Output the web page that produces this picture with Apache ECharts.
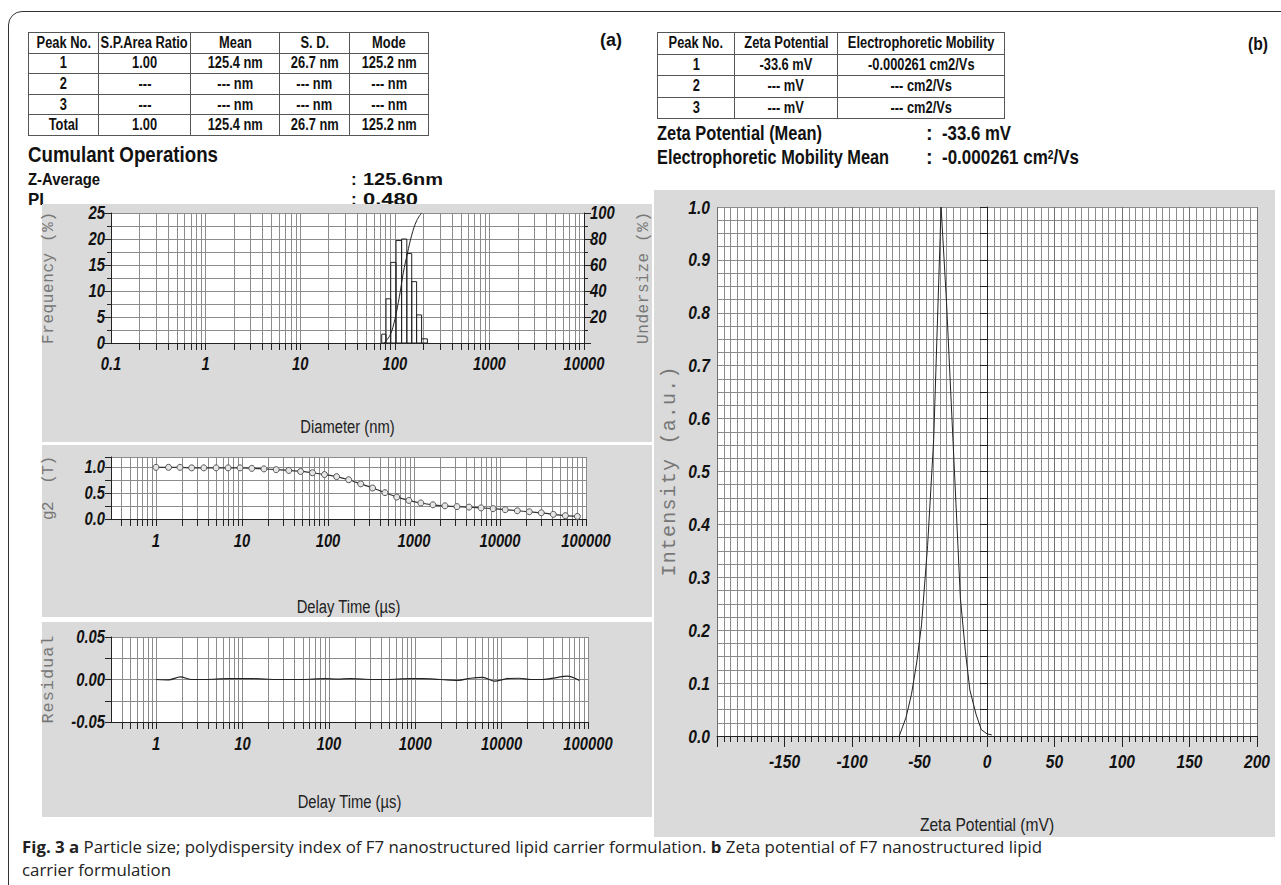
<!DOCTYPE html>
<html>
<head>
<meta charset="utf-8">
<script src="https://cdn.jsdelivr.net/npm/echarts@6/dist/echarts.min.js"></script>
<style>
html,body{margin:0;padding:0;background:#fff;}
body{width:1281px;height:885px;overflow:hidden;position:relative;font-family:"Liberation Sans Narrow","Arial Narrow","Liberation Sans",Arial,sans-serif;color:#111;}
#frame{position:absolute;left:8px;top:11px;width:1320px;height:920px;border:1.5px solid #333;border-top-left-radius:14px;box-sizing:border-box;z-index:0;}
.t{position:absolute;white-space:nowrap;font-weight:bold;line-height:1;transform-origin:0 50%;z-index:0;}
.panel{position:absolute;background:#dadada;z-index:1;}
#chart{position:absolute;left:0;top:0;width:1281px;height:885px;z-index:2;}
table{position:absolute;border-collapse:collapse;table-layout:fixed;font-weight:bold;font-size:16px;z-index:3;}
td{border:1px solid #555;text-align:center;padding:0;white-space:nowrap;overflow:visible;line-height:1;}
td span{display:inline-block;transform-origin:50% 50%;margin:0 -40px;}
#tabA td{height:19.6px;}
#tabB td{height:20.5px;}
.cap{position:absolute;left:22px;white-space:nowrap;font-family:"Open Sans","Noto Sans",sans-serif;font-size:16px;line-height:1;color:#222;transform-origin:0 50%;z-index:3;}
.cap b{font-weight:bold;}
sup{font-size:0.6em;vertical-align:0.45em;}
</style>
</head>
<body>
<div id="frame"></div>

<!-- header texts (a) -->
<span class="t" data-w="22" style="left:600px;top:31px;font-size:18px">(a)</span>
<span class="t" data-w="190" style="left:28px;top:144px;font-size:22px">Cumulant Operations</span>
<span class="t" data-w="72" style="left:28px;top:171px;font-size:17px">Z-Average</span>
<span class="t" style="left:351px;top:171px;font-size:17px">:</span>
<span class="t" data-w="80" style="left:363px;top:171px;font-size:17px">125.6nm</span>
<span class="t" data-w="16" style="left:28px;top:191px;font-size:17px">PI</span>
<span class="t" style="left:351px;top:191px;font-size:17px">:</span>
<span class="t" data-w="55" style="left:363px;top:191px;font-size:17px">0.480</span>

<!-- header texts (b) -->
<span class="t" data-w="20" style="left:1248px;top:35px;font-size:18px">(b)</span>
<span class="t" data-w="165" style="left:657px;top:123px;font-size:20px">Zeta Potential (Mean)</span>
<span class="t" style="left:926px;top:123px;font-size:20px">:</span>
<span class="t" data-w="69" style="left:942px;top:123px;font-size:20px">-33.6 mV</span>
<span class="t" data-w="232" style="left:657px;top:147px;font-size:20px">Electrophoretic Mobility Mean</span>
<span class="t" style="left:926px;top:147px;font-size:20px">:</span>
<span class="t" data-w="137" style="left:942px;top:147px;font-size:20px">-0.000261 cm<sup>2</sup>/Vs</span>

<div class="panel" style="left:42px;top:204px;width:610px;height:238px"></div>
<div class="panel" style="left:42px;top:445px;width:610px;height:172px"></div>
<div class="panel" style="left:42px;top:622px;width:610px;height:195px"></div>
<div class="panel" style="left:654px;top:190px;width:621px;height:647px"></div>

<div id="chart"></div>

<table id="tabA" style="left:28px;top:32px;width:400px">
<colgroup><col style="width:70px"><col style="width:92px"><col style="width:89px"><col style="width:70px"><col style="width:79px"></colgroup>
<tbody id="tabAbody"></tbody>
</table>
<table id="tabB" style="left:657px;top:32px;width:347px">
<colgroup><col style="width:77px"><col style="width:103px"><col style="width:167px"></colgroup>
<tbody id="tabBbody"></tbody>
</table>

<div class="cap" id="cap1" style="top:839px"><b>Fig. 3 a</b> Particle size; polydispersity index of F7 nanostructured lipid carrier formulation. <b>b</b> Zeta potential of F7 nanostructured lipid</div>
<div class="cap" id="cap2" style="top:862px">carrier formulation</div>

<script>
// ---------------- data ----------------
// (a) particle size distribution
const binEdgesNm = [72.7, 80.7, 90.5, 103, 118, 134, 151, 170, 192, 221];
const frequencyPct = [1.7, 8.5, 15.5, 19.7, 20.0, 17.2, 11.8, 5.4, 0.8];
const undersizeNm = [77, 89, 100, 112, 123, 136, 151, 170, 192];
const undersizePct = [0, 6, 18, 36, 54, 69, 83, 94, 100];
const diameterLabels = [0.1, 1, 10, 100, 1000, 10000];

// correlation function g2 and residual
const delayUs = [1, 1.4, 1.9, 2.6, 3.6, 5, 6.9, 9.5, 13, 18, 25, 35, 48, 66, 91, 126, 174, 240, 330, 460,
  630, 870, 1200, 1660, 2290, 3160, 4370, 6030, 8320, 11500, 15900, 21900, 30200, 41700, 57500, 79400];
const g2Values = [1.0, 1.0, 1.0, 0.99, 0.99, 0.99, 0.99, 0.99, 0.98, 0.97, 0.955, 0.94, 0.92, 0.895, 0.86, 0.82,
  0.76, 0.68, 0.60, 0.51, 0.425, 0.36, 0.31, 0.275, 0.255, 0.24, 0.23, 0.215, 0.20, 0.18, 0.16, 0.14, 0.12, 0.09, 0.065, 0.05];
const residualValues = [0, -0.0005, 0.003, 0, 0, 0.0005, 0.001, 0.001, 0.001, 0.0005, 0, 0, 0, 0.0005, 0.001, 0.0005,
  0.001, 0.0005, 0, 0, 0.0005, 0.001, 0.001, 0.0005, -0.0005, -0.001, 0.0015, 0.0025, -0.002, 0.001, 0.0015, 0, 0, 0.002, 0.004, -0.001];
const delayLabels = [1, 10, 100, 1000, 10000, 100000];

// (b) zeta potential distribution
const zetaMv = [-65, -60, -56, -52, -48.5, -44, -39.5, -34, -30, -26.5, -23, -19.7, -16, -12.7, -8, -4.2, 0, 3.6];
const zetaIntensity = [0, 0.035, 0.078, 0.14, 0.21, 0.36, 0.56, 1.0, 0.82, 0.63, 0.44, 0.26, 0.16, 0.087, 0.04, 0.012, 0.004, 0.002];

// tables
const tableAHeader = ['Peak No.', 'S.P.Area Ratio', 'Mean', 'S. D.', 'Mode'];
const tableARows = [
  ['1', '1.00', '125.4 nm', '26.7 nm', '125.2 nm'],
  ['2', '---', '--- nm', '--- nm', '--- nm'],
  ['3', '---', '--- nm', '--- nm', '--- nm'],
  ['Total', '1.00', '125.4 nm', '26.7 nm', '125.2 nm']
];
const tableBHeader = ['Peak No.', 'Zeta Potential', 'Electrophoretic Mobility'];
const tableBRows = [
  ['1', '-33.6 mV', '-0.000261 cm2/Vs'],
  ['2', '--- mV', '--- cm2/Vs'],
  ['3', '--- mV', '--- cm2/Vs']
];

// ---------------- tables ----------------
function fillTable(id, header, rows) {
  const tb = document.getElementById(id);
  [header].concat(rows).forEach(r => {
    const tr = document.createElement('tr');
    r.forEach(c => { const td = document.createElement('td'); const s = document.createElement('span'); s.textContent = c; td.appendChild(s); tr.appendChild(td); });
    tb.appendChild(tr);
  });
}
fillTable('tabAbody', tableAHeader, tableARows);
fillTable('tabBbody', tableBHeader, tableBRows);

// narrow-font compensation
(function () {
  const probe = document.createElement('span');
  probe.style.cssText = 'position:absolute;visibility:hidden;font-weight:bold;font-size:16px;white-space:nowrap;';
  probe.textContent = 'S.P.Area Ratio';
  document.body.appendChild(probe);
  const f = Math.min(1.05, 87 / probe.getBoundingClientRect().width);
  probe.remove();
  document.querySelectorAll('td span').forEach(s => { s.style.transform = 'scaleX(' + f + ')'; });
})();
document.querySelectorAll('[data-w]').forEach(el => {
  const a = el.getBoundingClientRect().width;
  if (a > 0) el.style.transform = 'scaleX(' + (+el.dataset.w / a) + ')';
});
(function () {
  const c1 = document.getElementById('cap1'), c2 = document.getElementById('cap2');
  const f = 1020 / c1.getBoundingClientRect().width;
  c1.style.transform = c2.style.transform = 'scaleX(' + f + ')';
})();

// ---------------- chart ----------------
const NARROW = '"Liberation Sans Narrow","Arial Narrow","Liberation Sans",Arial,sans-serif';
const MONO = '"Liberation Mono","Courier New",monospace';
const GRIDC = '#8c8c8c';
const AXC = '#222';
const tickLab = { fontFamily: NARROW, fontWeight: 'bold', fontStyle: 'italic', fontSize: 18, color: '#111' };
const nameX = { fontFamily: NARROW, fontSize: 18, color: '#222' };
const nameY = (s) => ({ fontFamily: MONO, fontSize: s, color: '#777' });

function logGrid(lo, hi) {
  const out = [];
  for (let e = -2; e <= 6; e++) for (let m = 1; m <= 9; m++) {
    const v = Number((m * Math.pow(10, e)).toPrecision(6));
    if (v > lo * 1.0001 && v <= hi * 1.0001) out.push(v);
  }
  return out;
}
const numFmt = v => String(Number(Number(v).toPrecision(6)));

function logX(gi, min, max, labels, name, gap, margin) {
  return {
    type: 'log', logBase: 10, gridIndex: gi, min: min, max: max,
    axisLine: { show: true, onZero: false, lineStyle: { color: AXC, width: 1 } },
    axisTick: { show: true, customValues: logGrid(min, max), length: 7, lineStyle: { color: AXC } },
    axisLabel: Object.assign({ customValues: labels, formatter: numFmt, margin: margin }, tickLab),
    splitLine: { show: true, lineStyle: { color: GRIDC, width: 1 } },
    name: name, nameLocation: 'middle', nameGap: gap, nameTextStyle: nameX
  };
}

const chart = echarts.init(document.getElementById('chart'), null, { renderer: 'svg', width: 1281, height: 885 });
const gridBase = { show: true, backgroundColor: '#fff', borderWidth: 0, containLabel: false, outerBoundsMode: 'none' };

chart.setOption({
  animation: false,
  backgroundColor: 'transparent',
  grid: [
    Object.assign({ left: 111, top: 213, width: 473, height: 130 }, gridBase),
    Object.assign({ left: 111, top: 457, width: 475, height: 62 }, gridBase),
    Object.assign({ left: 111, top: 637, width: 477, height: 85 }, gridBase),
    Object.assign({ left: 717, top: 207, width: 540, height: 529 }, gridBase)
  ],
  xAxis: [
    logX(0, 0.1, 10000, diameterLabels, 'Diameter (nm)', 75, 12),
    logX(1, 0.3, 100000, delayLabels, 'Delay Time (\u00b5s)', 79, 13),
    logX(2, 0.3, 100000, delayLabels, 'Delay Time (\u00b5s)', 71, 13),
    {
      type: 'value', gridIndex: 3, min: -200, max: 200, interval: 50,
      axisLine: { show: true, onZero: false, lineStyle: { color: AXC } },
      axisTick: { show: true, length: 11, lineStyle: { color: AXC } },
      minorTick: { show: true, splitNumber: 10, length: 6, lineStyle: { color: AXC } },
      splitLine: { show: true, lineStyle: { color: '#707070' } },
      minorSplitLine: { show: true, lineStyle: { color: GRIDC } },
      axisLabel: Object.assign({ showMinLabel: false, margin: 16 }, tickLab, { fontSize: 19 }),
      name: 'Zeta Potential (mV)', nameLocation: 'middle', nameGap: 79,
      nameTextStyle: { fontFamily: NARROW, fontSize: 19, color: '#222' }
    }
  ],
  yAxis: [
    {
      type: 'value', gridIndex: 0, min: 0, max: 25, interval: 5, position: 'left',
      axisLine: { show: true, lineStyle: { color: AXC } },
      axisTick: { show: true, length: 7, lineStyle: { color: AXC } },
      minorTick: { show: true, splitNumber: 2, length: 4, lineStyle: { color: AXC } },
      splitLine: { show: true, lineStyle: { color: GRIDC } },
      minorSplitLine: { show: true, lineStyle: { color: GRIDC } },
      axisLabel: Object.assign({ margin: 6 }, tickLab),
      name: 'Frequency (%)', nameLocation: 'middle', nameGap: 54, nameRotate: 90, nameTextStyle: nameY(16)
    },
    {
      type: 'value', gridIndex: 0, min: 0, max: 100, interval: 20, position: 'right',
      axisLine: { show: true, lineStyle: { color: AXC } },
      axisTick: { show: true, length: 7, lineStyle: { color: AXC } },
      minorTick: { show: true, splitNumber: 2, length: 4, lineStyle: { color: AXC } },
      splitLine: { show: false },
      axisLabel: Object.assign({ margin: 6, formatter: v => (v === 0 ? '' : String(v)) }, tickLab),
      name: 'Undersize (%)', nameLocation: 'middle', nameGap: 52, nameRotate: 90, nameTextStyle: nameY(16)
    },
    {
      type: 'value', gridIndex: 1, min: 0, max: 1.2, interval: 0.25,
      axisLine: { show: true, lineStyle: { color: AXC } },
      axisTick: { show: true, length: 6, lineStyle: { color: AXC } },
      splitLine: { show: true, lineStyle: { color: GRIDC } },
      axisLabel: Object.assign({ margin: 6, formatter: v => (v <= 1.0001 && Math.abs(v * 2 - Math.round(v * 2)) < 1e-6 ? v.toFixed(1) : '') }, tickLab),
      name: 'g2  (T)', nameLocation: 'middle', nameGap: 54, nameRotate: 90, nameTextStyle: nameY(16)
    },
    {
      type: 'value', gridIndex: 2, min: -0.05, max: 0.05, interval: 0.025,
      axisLine: { show: true, onZero: false, lineStyle: { color: AXC } },
      axisTick: { show: true, length: 6, lineStyle: { color: AXC } },
      splitLine: { show: true, lineStyle: { color: GRIDC } },
      axisLabel: Object.assign({ margin: 6, formatter: v => (Math.abs(v * 20 - Math.round(v * 20)) < 1e-6 ? (Math.abs(v) < 1e-9 ? '0.00' : v.toFixed(2)) : '') }, tickLab),
      name: 'Residual', nameLocation: 'middle', nameGap: 54, nameRotate: 90, nameTextStyle: nameY(17)
    },
    {
      type: 'value', gridIndex: 3, min: 0, max: 1, interval: 0.05,
      axisLine: { show: true, lineStyle: { color: AXC } },
      axisTick: { show: true, length: 7, lineStyle: { color: AXC } },
      minorTick: { show: false, splitNumber: 2 },
      splitLine: { show: true, lineStyle: { color: GRIDC } },
      minorSplitLine: { show: true, lineStyle: { color: GRIDC } },
      axisLabel: Object.assign({ margin: 7, formatter: v => (Math.abs(v * 10 - Math.round(v * 10)) < 1e-6 ? v.toFixed(1) : '') }, tickLab, { fontSize: 19 }),
      name: 'Intensity (a.u.)', nameLocation: 'middle', nameGap: 38, nameRotate: 90, nameTextStyle: nameY(20)
    }
  ],
  series: [
    {
      type: 'custom', xAxisIndex: 0, yAxisIndex: 0, silent: true, z: 3,
      data: frequencyPct.map((v, i) => [binEdgesNm[i], binEdgesNm[i + 1], v]),
      encode: { x: [0, 1], y: 2 },
      renderItem: function (params, api) {
        const p0 = api.coord([api.value(0), api.value(2)]);
        const p1 = api.coord([api.value(1), 0]);
        return { type: 'rect', shape: { x: p0[0], y: p0[1], width: p1[0] - p0[0], height: p1[1] - p0[1] },
          style: { fill: 'none', stroke: '#222', lineWidth: 1 } };
      }
    },
    {
      type: 'line', xAxisIndex: 0, yAxisIndex: 1, smooth: 0.4, showSymbol: false, silent: true, z: 4,
      data: undersizeNm.map((d, i) => [d, undersizePct[i]]),
      lineStyle: { color: '#222', width: 1 }
    },
    {
      type: 'line', xAxisIndex: 1, yAxisIndex: 2, smooth: 0.3, symbol: 'circle', symbolSize: 6, silent: true,
      data: delayUs.map((d, i) => [d, g2Values[i]]),
      lineStyle: { color: '#333', width: 1.2 },
      itemStyle: { color: '#e6e6e6', borderColor: '#555', borderWidth: 1 }
    },
    {
      type: 'line', xAxisIndex: 2, yAxisIndex: 3, smooth: 0.3, showSymbol: false, silent: true,
      data: delayUs.map((d, i) => [d, residualValues[i]]),
      lineStyle: { color: '#222', width: 1.2 }
    },
    {
      type: 'line', xAxisIndex: 3, yAxisIndex: 4, smooth: false, showSymbol: false, silent: true,
      data: zetaMv.map((z, i) => [z, zetaIntensity[i]]),
      lineStyle: { color: '#222', width: 1 }
    }
  ]
});

// condense the narrow-font texts and letter-space the monospace axis titles
const monoLengths = { 'Frequency (%)': 132, 'Undersize (%)': 132, 'g2  (T)': 64, 'Residual': 88, 'Intensity (a.u.)': 210 };
function condenseTexts() {
  document.querySelectorAll('#chart svg text').forEach(t => {
    if (t.getAttribute('data-done')) return;
    const st = (t.getAttribute('style') || '') + ' ' + (t.getAttribute('font-family') || '');
    const txt = t.textContent;
    if (monoLengths[txt]) {
      t.setAttribute('textLength', monoLengths[txt]);
      t.setAttribute('lengthAdjust', 'spacing');
      t.setAttribute('data-done', '1');
    } else if (st.indexOf('Narrow') >= 0 && txt) {
      const w = t.getComputedTextLength();
      if (w > 0) {
        t.setAttribute('textLength', (w * 0.82).toFixed(2));
        t.setAttribute('lengthAdjust', 'spacingAndGlyphs');
        t.setAttribute('data-done', '1');
      }
    }
  });
}
condenseTexts();
chart.on('finished', condenseTexts);
</script>
</body>
</html>
